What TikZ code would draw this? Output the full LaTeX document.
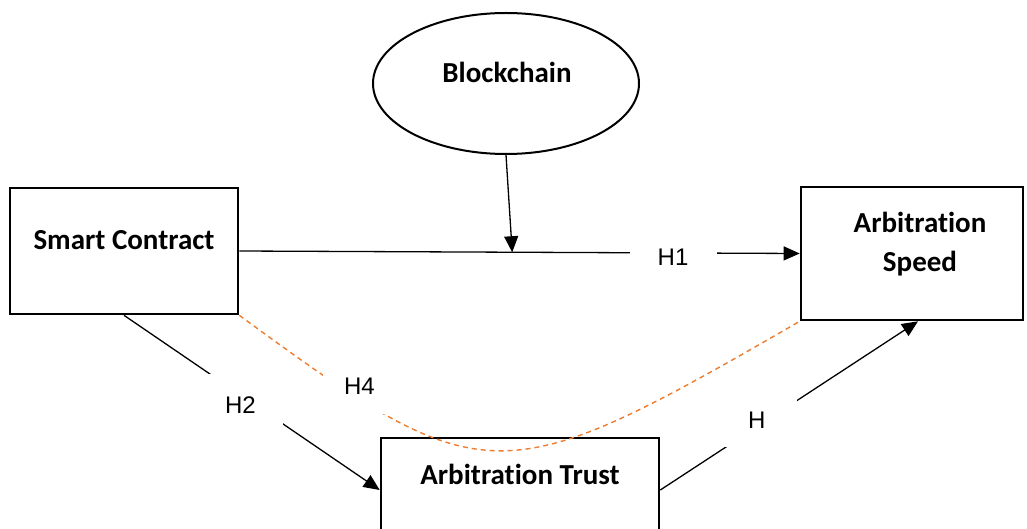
\documentclass[tikz,border=0pt]{standalone}
\usepackage{fontspec}
\setmainfont{Carlito}[Ligatures=NoCommon]
\newfontfamily\labelfont{Liberation Sans}
\usetikzlibrary{arrows.meta,calc,shapes.geometric}
\definecolor{dashorange}{RGB}{237,125,49}

\begin{document}
\begin{tikzpicture}
[x=1pt,y=-1pt,
  boxdecorate/.style={shape=rectangle,draw,line width=2.6pt,inner sep=0pt},%
  ellipsedecorate/.style={shape=ellipse,draw,line width=2pt,inner sep=0pt,
    minimum width=266pt,minimum height=141pt},%
  textdecorate/.style={font=\fontsize{29}{39}\selectfont\bfseries,align=center},%
  linedecorate/.style={-{Triangle[length=16pt,width=14pt]},line width=1.3pt},%
  labeldecorate/.style={font=\labelfont\fontsize{24}{28}\selectfont,
    text=black,fill=white,inner sep=0pt},%
  dashdecorate/.style={dashorange,line width=1.4pt,dash pattern=on 5pt off 4pt}]
\useasboundingbox (0,0) rectangle (1027,529);
%% boxes and the ellipse
\foreach \nodename/\x/\y/\w/\h in {sc/124/251/228/126, as/912/253.5/222/133,
  at/520/490/278/104}
{
  \node (\nodename) at (\x,\y) [boxdecorate,minimum width=\w,minimum height=\h] {};
}
\node (bc) at (506,83.5) [ellipsedecorate] {};
%% texts
\node (bctext) at (507,72) [textdecorate] {Blockchain};
\node (sctext) at (124,240) [textdecorate] {Smart Contract};
\node (astext) at (920,244) [textdecorate] {Arbitration\\Speed};
\node (attext) at (520,474) [textdecorate] {Arbitration Trust};
%% paths
\coordinate (joint) at ($(sc.east)!0.487!(as.west)$);
\draw[linedecorate] (sc.east) -- node[labeldecorate,pos=0.774,yshift=-4pt,
  minimum width=87pt,minimum height=30pt] (h1) {H1} (as.west);
\draw[linedecorate] (bc.south) -- (joint);
\draw[linedecorate] (sc.south) -- node[labeldecorate,pos=0.455,yshift=-10pt,
  minimum width=86pt,minimum height=62pt] (h2) {H2} (at.west);
\draw[linedecorate] (at.east) -- node[labeldecorate,pos=0.3745,yshift=7pt,
  minimum width=80pt,minimum height=54pt] (h3) {H} ([xshift=6pt]as.south);
\draw[dashdecorate] (sc.south east) .. controls (485,495) and (499,495) ..
  node[labeldecorate,pos=0.18,xshift=7pt,yshift=9pt,
  minimum width=72pt,minimum height=56pt] (h4) {H4} (as.south west);
\end{tikzpicture}
\end{document}
